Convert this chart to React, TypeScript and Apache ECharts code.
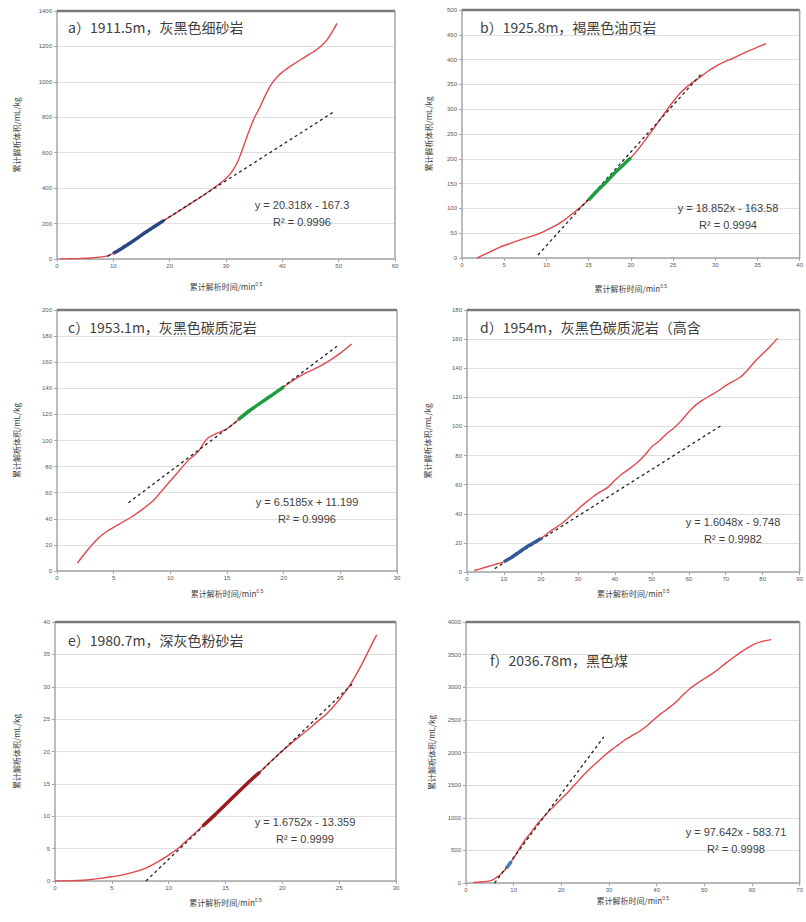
import React, { useEffect, useRef } from "react";
import * as echarts from "echarts";

// ---------- Data ----------
const curveA = [[0.5,0],[2,1],[4,3],[6,6],[8,12],[9,18],[10,32],[11,50],[12,70],[13,90],[14,112],[15,135],[16,157],[17,177],[18,198],[19,218],[20,238],[22,278],[24,318],[26,360],[28,405],[30,455],[31,490],[32,545],[33,625],[34,715],[35,795],[36,855],[37,925],[38,985],[39,1025],[40,1055],[42,1100],[44,1140],[46,1180],[47,1205],[48,1240],[49,1290],[49.7,1330]];
const fitA = [[9,15],[49,828]];
const segRangeA = [10, 19];

const curveB = [[1.8,0],[3,10],[4.5,22],[6,31],[7.5,40],[9,48],[10.5,60],[12,75],[13.5,95],[15,117],[16,135],[17,152],[18,170],[19,186],[20,202],[21,222],[22,245],[23,268],[24,292],[25,315],[26,335],[27,350],[28,362],[29,375],[30,386],[31,395],[32,402],[33,410],[34,418],[35,425],[36,432]];
const fitB = [[9,6],[28.5,374]];
const segRangeB = [15, 20];

const curveC = [[1.8,6],[2.5,14],[3.5,24],[4.5,31],[5.5,36],[6.5,41],[7.5,47],[8.5,54],[9.5,64],[10.5,74],[11.5,84],[12.5,92],[13.2,101],[14,105],[15,109],[16,116],[17,123],[18,129],[19,135],[20,141],[21,147],[22,152],[23,156],[24,161],[25,167],[26,174]];
const fitC = [[6.3,52.3],[24.7,172.2]];
const segRangeC = [16, 20];

const curveD = [[2,1],[4,2.5],[6,4],[8,5.5],[10,7],[12,10],[14,13.5],[16,17],[18,20],[20,23],[22,27],[24,30.5],[26,34],[28,38.5],[30,43],[32,47.5],[34,51.5],[36,55],[38,58],[40,63],[42,67.5],[44,71],[46,75],[48,80],[50,86],[52,90],[54,95],[56,99],[58,104],[60,110],[62,115],[64,118.5],[66,121.5],[68,124.5],[70,128],[72,131],[74,134],[76,139],[78,145],[80,150],[82,155],[84,160.5]];
const fitD = [[7.5,2.3],[69,101]];
const segRangeD = [10, 20];

const curveE = [[0,0],[1,0.02],[2,0.08],[3,0.2],[4,0.4],[5,0.65],[6,0.95],[7,1.4],[8,2.0],[9,2.9],[10,4.0],[11,5.3],[12,6.9],[13,8.5],[14,10.1],[15,11.8],[16,13.5],[17,15.2],[18,16.8],[19,18.5],[20,20.1],[21,21.6],[22,23.0],[23,24.5],[24,26.0],[25,28.0],[26,30.4],[27,33.5],[28,37.0],[28.3,38]];
const fitE = [[8,0],[26.2,30.5]];
const segRangeE = [12.5, 18.5];

const curveF = [[1.5,10],[3,15],[4.5,25],[5.5,45],[6.5,90],[7.5,150],[8.5,230],[9.5,330],[10.5,440],[11.5,560],[12.5,670],[13.5,760],[14.5,860],[15.5,950],[16.5,1030],[17.5,1110],[18.5,1180],[20,1290],[21.5,1400],[23,1520],[24.5,1640],[26,1750],[27.5,1850],[29,1950],[30.5,2040],[32,2120],[33.5,2200],[35,2265],[36.5,2330],[38,2410],[39.5,2510],[41,2600],[42.5,2680],[44,2770],[45.5,2880],[47,2980],[48.5,3060],[50,3130],[51.5,3200],[53,3280],[54.5,3370],[56,3450],[57.5,3530],[59,3600],[60.5,3660],[62,3700],[64,3730]];
const fitF = [[6,0],[28.9,2238]];
const segRangeF = [8.3, 9.5];

const titles = [
  "a）1911.5m，灰黑色细砂岩",
  "b）1925.8m，褐黑色油页岩",
  "c）1953.1m，灰黑色碳质泥岩",
  "d）1954m，灰黑色碳质泥岩（高含",
  "e）1980.7m，深灰色粉砂岩",
  "f）2036.78m，黑色煤",
];
const equations = [
  "y = 20.318x - 167.3",
  "y = 18.852x - 163.58",
  "y = 6.5185x + 11.199",
  "y = 1.6048x - 9.748",
  "y = 1.6752x - 13.359",
  "y = 97.642x - 583.71",
];
const r2 = ["R² = 0.9996", "R² = 0.9994", "R² = 0.9996", "R² = 0.9982", "R² = 0.9999", "R² = 0.9998"];
const xMax = [60, 40, 30, 90, 30, 70];
const xStep = [10, 5, 5, 10, 5, 10];
const yMax = [1400, 500, 200, 180, 40, 4000];
const yStep = [200, 50, 20, 20, 5, 500];
const xNameMain = "累计解析时间/min";
const xNameSup = "0.5";
const yName = "累计解析体积/mL/kg";

// ---------- Layout / style ----------
const grids = [
  { left: 57, top: 11, width: 338, height: 248 },
  { left: 462, top: 10, width: 341, height: 248 },
  { left: 57, top: 310, width: 340, height: 261 },
  { left: 467, top: 310, width: 339, height: 262 },
  { left: 55, top: 622, width: 341, height: 259 },
  { left: 466, top: 622, width: 339, height: 261 },
];
const xNameGap = [22, 25, 17, 16, 16, 12];
const yNameGap = [37, 30, 37, 36, 35, 31];
const titlePos = [[68, 27], [480, 27], [68, 327], [480, 327], [68, 640], [490, 660]];
const eqPos = [[302, 205], [728, 208], [307, 502], [733, 522], [305, 822], [736, 832]];
const segColors = ["#2a4683", "#1e9e40", "#1e9e40", "#30589a", "#9a1c1c", "#4a7cb4"];
const RED = "#e2474d";

export default function App() {
  const ref = useRef<HTMLDivElement>(null);
  useEffect(() => {
    document.body.style.margin = "0";
    const chart = echarts.init(ref.current!, undefined, { renderer: "svg" });
    const curves = [curveA, curveB, curveC, curveD, curveE, curveF];
    const fits = [fitA, fitB, fitC, fitD, fitE, fitF];
    const segRanges = [segRangeA, segRangeB, segRangeC, segRangeD, segRangeE, segRangeF];

    const xAxes: any[] = [];
    const yAxes: any[] = [];
    const series: any[] = [];
    const graphics: any[] = [];
    const labelFont = { fontSize: 6, color: "#595959", fontFamily: "Liberation Sans", formatter: (v: number) => String(v) };
    const nameFont = {
      fontSize: 8, color: "#404040", fontFamily: "Noto Sans CJK SC",
      rich: {
        m: { fontSize: 8, color: "#404040", fontFamily: "Noto Sans CJK SC" },
        s: { fontSize: 5, color: "#404040", fontFamily: "Liberation Sans", padding: [0, 0, 5, 0] },
      },
    };

    for (let i = 0; i < 6; i++) {
      xAxes.push({
        type: "value", gridIndex: i, min: 0, max: xMax[i], interval: xStep[i],
        axisLine: { show: true, onZero: false, lineStyle: { color: "#a6a6a6", width: 1.5 } },
        axisTick: { show: true, length: 3, lineStyle: { color: "#a6a6a6" } },
        axisLabel: { ...labelFont, margin: 4 },
        splitLine: { show: false },
        name: `{m|${xNameMain}}{s|${xNameSup}}`, nameLocation: "middle", nameGap: xNameGap[i], nameTextStyle: nameFont,
      });
      yAxes.push({
        type: "value", gridIndex: i, min: 0, max: yMax[i], interval: yStep[i],
        axisLine: { show: true, onZero: false, lineStyle: { color: "#a6a6a6", width: 1.5 } },
        axisTick: { show: true, length: 3, lineStyle: { color: "#a6a6a6" } },
        axisLabel: { ...labelFont, margin: 5 },
        splitLine: { show: true, lineStyle: { color: "#dedede", width: 1 } },
        name: yName, nameLocation: "middle", nameGap: yNameGap[i], nameRotate: 90,
        nameTextStyle: { fontSize: 8, color: "#404040", fontFamily: "Noto Sans CJK SC" },
      });
      // frame: right edge and thick top edge of the plot area
      series.push({
        type: "line", xAxisIndex: i, yAxisIndex: i, clip: false, silent: true,
        data: [[xMax[i], 0], [xMax[i], yMax[i]]],
        showSymbol: false, lineStyle: { color: "#a6a6a6", width: 1.5 }, z: 1,
      });
      series.push({
        type: "line", xAxisIndex: i, yAxisIndex: i, clip: false, silent: true,
        data: [[0, yMax[i]], [xMax[i], yMax[i]]],
        showSymbol: false, lineStyle: { color: "#7a7a7a", width: 2.5 }, z: 1,
      });
      series.push({
        type: "line", xAxisIndex: i, yAxisIndex: i, data: curves[i], smooth: 0.3,
        showSymbol: false, lineStyle: { color: RED, width: 1.4 }, z: 2,
      });
      series.push({
        type: "line", xAxisIndex: i, yAxisIndex: i, data: fits[i],
        showSymbol: false, lineStyle: { color: "#222", width: 1.3, type: [3, 3] }, z: 3,
      });
      const [a, b] = segRanges[i];
      series.push({
        type: "line", xAxisIndex: i, yAxisIndex: i,
        data: curves[i].filter((p) => p[0] >= a && p[0] <= b), smooth: 0.3,
        showSymbol: false, lineStyle: { color: segColors[i], width: 3.5 }, z: 4,
      });
      graphics.push({
        type: "text", x: titlePos[i][0], y: titlePos[i][1],
        style: { text: titles[i], fill: "#404040", font: '14px "Noto Sans CJK SC"', textVerticalAlign: "middle", verticalAlign: "middle" },
        z: 10,
      });
      graphics.push({
        type: "text", x: eqPos[i][0], y: eqPos[i][1],
        style: { text: equations[i], fill: "#404040", font: '11px "Liberation Sans"', textAlign: "center", align: "center", textVerticalAlign: "middle", verticalAlign: "middle" },
        z: 10,
      });
      graphics.push({
        type: "text", x: eqPos[i][0], y: eqPos[i][1] + 17,
        style: { text: r2[i], fill: "#404040", font: '11px "Liberation Sans"', textAlign: "center", align: "center", textVerticalAlign: "middle", verticalAlign: "middle" },
        z: 10,
      });
    }

    chart.setOption({
      animation: false,
      backgroundColor: "#ffffff",
      grid: grids.map((g) => ({ ...g, containLabel: false })),
      xAxis: xAxes,
      yAxis: yAxes,
      series,
      graphic: graphics,
    });
    return () => chart.dispose();
  }, []);
  return <div ref={ref} style={{ width: 806, height: 922 }} />;
}
